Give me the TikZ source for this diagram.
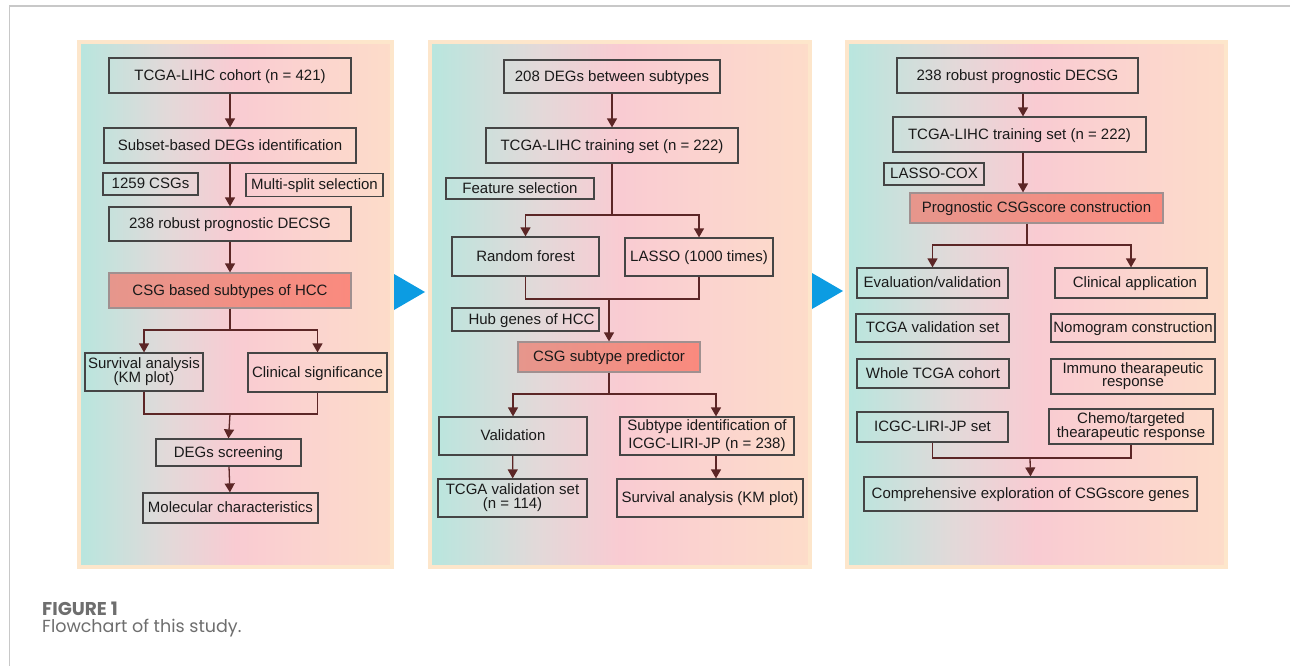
\documentclass[tikz,border=0pt]{standalone}
\usepackage{fontspec}
\setmainfont{Liberation Sans}
\newfontfamily\capfont{Poppins}
\usetikzlibrary{arrows.meta}

\definecolor{pteal}{HTML}{B8E6DE}
\definecolor{pgrey}{HTML}{E2D9D9}
\definecolor{ppink}{HTML}{F9CBD2}
\definecolor{ppinklt}{HTML}{FBD3CF}
\definecolor{ppeach}{HTML}{FDDCC9}
\definecolor{pborder}{HTML}{FDE6CB}
\definecolor{boxline}{HTML}{454545}
\definecolor{boxtext}{HTML}{1A1A1A}
\definecolor{hotleft}{HTML}{E6968C}
\definecolor{hotright}{HTML}{FA8A7E}
\definecolor{hotline}{HTML}{A09090}
\definecolor{connline}{HTML}{5C2626}
\definecolor{flowblue}{HTML}{0C9CE2}
\definecolor{frameline}{HTML}{C8C8C8}
\definecolor{captext}{HTML}{6E6E6E}

\pgfdeclarehorizontalshading{panelshade}{100bp}{color(0bp)=(pteal); color(25bp)=(pteal); color(39bp)=(pgrey); color(50bp)=(ppink); color(61bp)=(ppinklt); color(75bp)=(ppeach); color(100bp)=(ppeach)}

\tikzset{
	cell/.style={draw=boxline, line width=1.2pt, inner sep=0pt, align=center, text=boxtext, font=\fontsize{15}{14}\selectfont},
	box/.style={cell, text height=9.5pt, text depth=0pt},
	hot/.style={box, draw=hotline, left color=hotleft, right color=hotright},
	panel/.style={shading=panelshade, draw=pborder, line width=4pt},
	conn/.style={draw=connline, line width=1.3pt},
	arr/.style={conn, -{Triangle[width=10pt,length=9pt]}},
}

\begin{document}
\begin{tikzpicture}[x=1pt,y=-1pt]
			%%%%% START %%%%%
			\useasboundingbox (0,0) rectangle (1290,666);
			\draw[frameline, line width=1.3pt] (9.5,666) -- (9.5,6) -- (1290,6);
			
			\shadedraw[panel] (79,42) rectangle (392,567);
			\shadedraw[panel] (430,42) rectangle (810,567);
			\shadedraw[panel] (847,42) rectangle (1226,567);
			
			\fill[flowblue] (394,274) -- (425,292) -- (394,310) -- cycle;
			\fill[flowblue] (812,273) -- (843,291) -- (812,309) -- cycle;
			
			%%%%% PANEL 1 %%%%%
			\node[box, minimum width=242pt, minimum height=35pt] (coh) at (230,75.5) {TCGA-LIHC cohort (n = 421)};
			\node[box, minimum width=252pt, minimum height=35pt] (sub) at (230,145.5) {Subset-based DEGs identification};
			\node[box, minimum width=95pt, minimum height=22pt] (csgs) at (150.5,184) {1259 CSGs};
			\node[box, minimum width=137pt, minimum height=23pt] (msel) at (314.5,185) {Multi-split selection};
			\node[box, minimum width=242pt, minimum height=34pt] (rob1) at (230,224) {238 robust prognostic DECSG};
			\node[hot, minimum width=242pt, minimum height=35pt] (hcc) at (230,290.5) {CSG based subtypes of HCC};
			\node[cell, minimum width=118pt, minimum height=38pt] (surv1) at (144,372) {Survival analysis\\(KM plot)};
			\node[box, minimum width=139pt, minimum height=39pt] (clin1) at (317.5,372.5) {Clinical significance};
			\node[box, minimum width=145pt, minimum height=27pt] (degs) at (228.5,452.5) {DEGs screening};
			\node[box, minimum width=175pt, minimum height=30pt] (mol) at (230.5,508) {Molecular characteristics};
			
			\draw[arr] (coh) -- (sub);
			\draw[arr] (sub) -- (rob1);
			\draw[arr] (rob1) -- (hcc);
			\coordinate (hb) at (230,330);
			\draw[conn] (hcc) -- (hb);
			\draw[arr] (hb) -| (surv1.north);
			\draw[arr] (hb) -| (clin1.north);
			\coordinate (hm) at (230,414);
			\draw[conn] (surv1.south) |- (hm) -| (clin1.south);
			\draw[arr] (hm) -- (degs.north);
			\draw[arr] (degs) -- (mol);
			
			%%%%% PANEL 2 %%%%%
			\node[box, minimum width=216pt, minimum height=33pt] (deg2) at (612,76.5) {208 DEGs between subtypes};
			\node[box, minimum width=252pt, minimum height=35pt] (trn2) at (612,145.5) {TCGA-LIHC training set (n = 222)};
			\node[box, minimum width=148pt, minimum height=21pt] (fsel) at (520,188.5) {Feature selection};
			\node[box, minimum width=147pt, minimum height=39pt] (rf) at (525.5,256.5) {Random forest};
			\node[box, minimum width=148pt, minimum height=38pt] (las) at (699,257) {LASSO (1000 times)};
			\node[box, minimum width=147pt, minimum height=23pt] (hub) at (525.5,319.5) {\hspace*{12pt}Hub genes of HCC};
			\node[hot, minimum width=182pt, minimum height=30pt] (prd) at (609,357) {CSG subtype predictor};
			\node[box, minimum width=148pt, minimum height=38pt] (val) at (513,436) {Validation};
			\node[cell, minimum width=174pt, minimum height=38pt, font=\fontsize{15}{18}\selectfont] (sid) at (707,436) {Subtype identification of\\ICGC-LIRI-JP (n = 238)};
			\node[cell, minimum width=149pt, minimum height=38pt] (tvs) at (512.5,498) {TCGA validation set\\(n = 114)};
			\node[box, minimum width=186pt, minimum height=38pt] (skm) at (710,498) {Survival analysis (KM plot)};
			
			\draw[arr] (deg2) -- (trn2);
			\coordinate (fb) at (612,215);
			\draw[conn] (trn2) -- (fb);
			\draw[arr] (fb) -| (rf.north);
			\draw[arr] (fb) -| (las.north);
			\coordinate (fm) at (609,299);
			\draw[conn] (rf.south) |- (fm) -| (las.south);
			\draw[arr] (fm) -- (prd.north);
			\coordinate (pb) at (609,394);
			\coordinate (kx) at (716,0);
			\draw[conn] (prd) -- (pb);
			\draw[arr] (pb) -| (val.north);
			\draw[arr] (pb) -| (sid.north -| kx);
			\draw[arr] (val) -- (tvs);
			\draw[arr] (sid.south -| kx) -- (skm.north -| kx);
			
			%%%%% PANEL 3 %%%%%
			\node[box, minimum width=241pt, minimum height=35pt] (rob3) at (1017.5,75.5) {238 robust prognostic DECSG};
			\node[box, minimum width=253pt, minimum height=35pt] (trn3) at (1019.5,134.5) {TCGA-LIHC training set (n = 222)};
			\node[box, minimum width=100pt, minimum height=22pt] (lcox) at (934,174) {LASSO-COX};
			\node[hot, minimum width=253pt, minimum height=30pt] (scr) at (1036.5,208) {Prognostic CSGscore construction};
			\node[box, minimum width=151pt, minimum height=30pt] (ev) at (932.5,283) {Evaluation/validation};
			\node[box, minimum width=152pt, minimum height=30pt] (ca) at (1131,283) {\hspace*{8pt}Clinical application};
			\node[box, minimum width=153pt, minimum height=28pt] (tv3) at (932.5,328) {TCGA validation set};
			\node[box, minimum width=164pt, minimum height=28pt] (nom) at (1133,328) {Nomogram construction};
			\node[box, minimum width=152pt, minimum height=29pt] (wt) at (933,373.5) {Whole TCGA cohort};
			\node[cell, minimum width=164pt, minimum height=35pt, font=\fontsize{15}{13}\selectfont] (imm) at (1133,376.5) {Immuno thearapeutic\\response};
			\node[box, minimum width=151pt, minimum height=30pt] (icgc) at (932.5,427) {ICGC-LIRI-JP set};
			\node[cell, minimum width=164pt, minimum height=35pt] (chm) at (1131,426.5) {Chemo/targeted\\thearapeutic response};
			\node[box, minimum width=333pt, minimum height=34pt] (cmp) at (1030.5,494) {Comprehensive exploration of CSGscore genes};
			
			\coordinate (cx) at (1023,0);
			\draw[arr] (rob3.south -| cx) -- (trn3.north -| cx);
			\draw[arr] (trn3.south -| cx) -- (scr.north -| cx);
			\coordinate (sb) at (1027,245);
			\draw[conn] (scr.south -| sb) -- (sb);
			\draw[arr] (sb) -| (ev.north);
			\draw[arr] (sb) -| (ca.north);
			\coordinate (cm) at (1030,458);
			\draw[conn] (icgc.south) |- (cm) -| (chm.south);
			\draw[arr] (cm) -- (cmp.north);
			
			%%%%% CAPTION %%%%%
			\node[anchor=base west, inner sep=0pt, text=captext, font=\capfont\bfseries\fontsize{18.5}{20}\selectfont] (fig) at (42,615) {FIGURE 1};
			\node[anchor=base west, inner sep=0pt, text=captext, font=\capfont\fontsize{17.5}{20}\selectfont] (cap) at (42,632) {Flowchart of this study.};
			%%%%% END %%%%%
\end{tikzpicture}
\end{document}
